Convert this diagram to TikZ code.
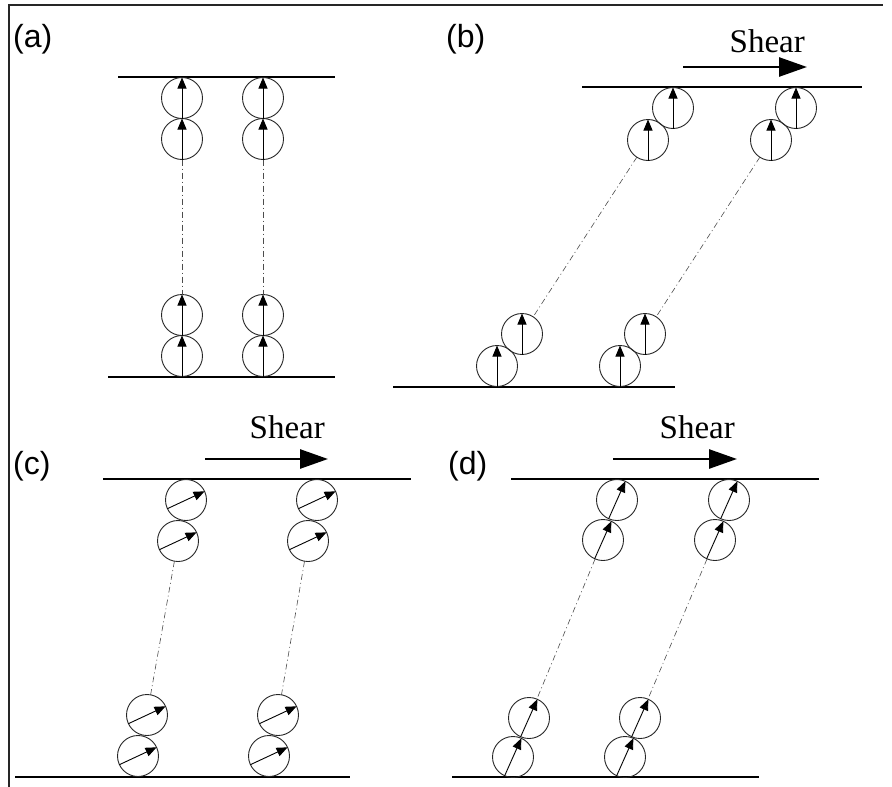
\documentclass[tikz,border=0pt]{standalone}
\usepackage{fontspec}
\setmainfont{Liberation Serif}
\newfontfamily\labfont{Liberation Sans}
\usetikzlibrary{arrows.meta}
\begin{document}
\begin{tikzpicture}[x=1pt,y=-1pt,
  ball/.style={circle,draw=black!85,line width=0.9pt,minimum size=41pt,inner sep=0pt,outer sep=0pt},
  vec/.style={line width=0.9pt,-{Triangle[length=11pt,width=9pt]}},
  plate/.style={line width=2.7pt},
  dd/.style={line width=0.6pt,black!70,dash pattern=on 6pt off 3pt on 1pt off 3pt},
  sheararrow/.style={line width=2.7pt,-{Triangle[length=28pt,width=19pt]}},
  sheartext/.style={anchor=base east,inner sep=0pt,font=\fontsize{33}{40}\selectfont},
  lab/.style={anchor=west,inner sep=0pt,font=\labfont\fontsize{32}{38}\selectfont},
  frame/.style={line width=2.6pt,black!85}]
\useasboundingbox (0,0) rectangle (892,787);
% frame
\coordinate (f1) at (9,787); \coordinate (f2) at (9,5); \coordinate (f3) at (883,5);
\draw[frame] (f1) -- (f2) -- (f3);
% labels
\node[lab] (la) at (13,39) {(a)};
\node[lab] (lb) at (446,39) {(b)};
\node[lab] (lc) at (13,466) {(c)};
\node[lab] (ld) at (448,466) {(d)};
% plates
\coordinate (pa1) at (118,77); \coordinate (pa2) at (335,77);
\coordinate (pa3) at (108,377); \coordinate (pa4) at (335,377);
\coordinate (pb1) at (582,87); \coordinate (pb2) at (862,87);
\coordinate (pb3) at (393,387); \coordinate (pb4) at (675,387);
\coordinate (pc1) at (103,479); \coordinate (pc2) at (411,479);
\coordinate (pc3) at (15,777); \coordinate (pc4) at (350,777);
\coordinate (pd1) at (511,479); \coordinate (pd2) at (819,479);
\coordinate (pd3) at (452,777); \coordinate (pd4) at (759,777);
\foreach \p/\q in {pa1/pa2,pa3/pa4,pb1/pb2,pb3/pb4,pc1/pc2,pc3/pc4,pd1/pd2,pd3/pd4}
  \draw[plate] (\p) -- (\q);
% shear arrows and texts
\coordinate (sb1) at (683,67); \coordinate (sb2) at (807,67);
\coordinate (sc1) at (205,459); \coordinate (sc2) at (328,459);
\coordinate (sd1) at (613,459); \coordinate (sd2) at (737,459);
\foreach \p/\q in {sb1/sb2,sc1/sc2,sd1/sd2}
  \draw[sheararrow] (\p) -- (\q);
\node[sheartext] (tb) at (805,52) {Shear};
\node[sheartext] (tc) at (325,438) {Shear};
\node[sheartext] (td) at (735,438) {Shear};
% panel a
\node[ball] (a1) at (182,98) {};
\node[ball] (a2) at (182,139) {};
\node[ball] (a3) at (182,315) {};
\node[ball] (a4) at (182,356) {};
\node[ball] (a5) at (263,98) {};
\node[ball] (a6) at (263,139) {};
\node[ball] (a7) at (263,315) {};
\node[ball] (a8) at (263,356) {};
% panel b
\node[ball] (b1) at (673,108) {};
\node[ball] (b2) at (648,140) {};
\node[ball] (b3) at (522,334) {};
\node[ball] (b4) at (497,366) {};
\node[ball] (b5) at (796,108) {};
\node[ball] (b6) at (771,140) {};
\node[ball] (b7) at (645,334) {};
\node[ball] (b8) at (620,366) {};
% panel c
\node[ball] (c1) at (186,500) {};
\node[ball] (c2) at (178,541) {};
\node[ball] (c3) at (147,715) {};
\node[ball] (c4) at (138,756) {};
\node[ball] (c5) at (317,500) {};
\node[ball] (c6) at (308,541) {};
\node[ball] (c7) at (278,715) {};
\node[ball] (c8) at (269,756) {};
% panel d
\node[ball] (d1) at (617,500) {};
\node[ball] (d2) at (603,540) {};
\node[ball] (d3) at (529,718) {};
\node[ball] (d4) at (513,757) {};
\node[ball] (d5) at (729,500) {};
\node[ball] (d6) at (715,540) {};
\node[ball] (d7) at (640,718) {};
\node[ball] (d8) at (625,757) {};
% vectors
\foreach \n in {a1,a2,a3,a4,a5,a6,a7,a8,b1,b2,b3,b4,b5,b6,b7,b8}
  \draw[vec] (\n.south) -- (\n.north);
\foreach \n in {c1,c2,c3,c4,c5,c6,c7,c8}
  \draw[vec] (\n.205) -- (\n.25);
\foreach \n in {d1,d2,d3,d4,d5,d6,d7,d8}
  \draw[vec] (\n.246) -- (\n.66);
% dash-dot links
\foreach \p/\q in {a2/a3,a6/a7,b2/b3,b6/b7,c2/c3,c6/c7,d2/d3,d6/d7}
  \draw[dd] (\p) -- (\q);
\end{tikzpicture}
\end{document}
